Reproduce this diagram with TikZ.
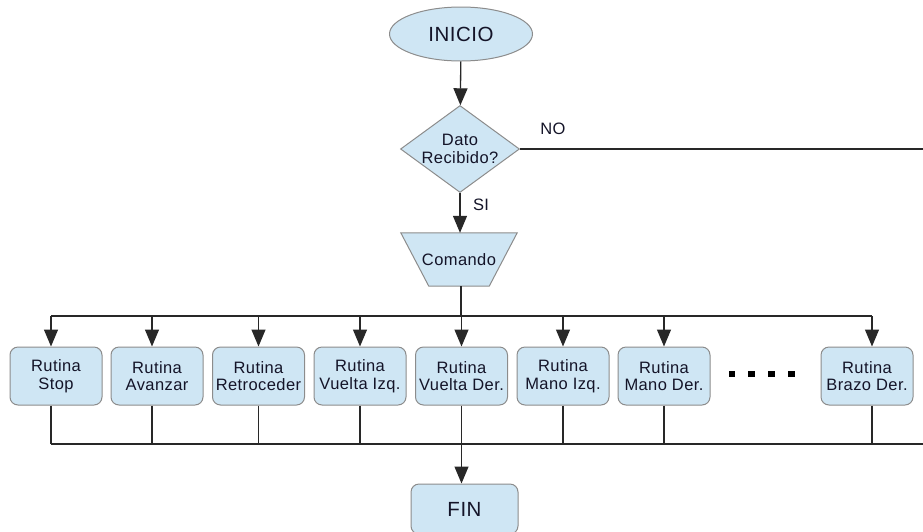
\documentclass[tikz,border=0pt]{standalone}
\usepackage{fontspec}
\setmainfont{Liberation Sans}
\newfontfamily\spacedfont[LetterSpace=2.5]{Liberation Sans}
\usetikzlibrary{shapes.geometric,arrows.meta}
\definecolor{boxfill}{RGB}{207,230,244}
\definecolor{boxdraw}{RGB}{140,140,140}
\definecolor{linecol}{RGB}{40,40,40}
\definecolor{txtcol}{RGB}{20,20,40}
\tikzset{
  shapebase/.style={draw=boxdraw, fill=boxfill, line width=1pt, inner sep=0pt, text=txtcol},
  smalltxt/.style={font=\spacedfont\fontsize{16.5}{17.8}\selectfont, align=center, text=txtcol},
  bigtxt/.style={font=\spacedfont\fontsize{20.5}{22}\selectfont},
  rutina/.style={shapebase, smalltxt, rectangle, rounded corners=8pt, minimum width=92pt, minimum height=58pt},
  conn/.style={draw=linecol, line width=1.3pt},
  arr/.style={conn, -{Triangle[width=14pt,length=17pt]}},
  dotsq/.style={fill=black, minimum size=6.5pt, inner sep=0pt, rectangle}
}
\begin{document}
\begin{tikzpicture}[x=1pt,y=-1pt]
\useasboundingbox (0,0) rectangle (923,531);
\clip (0,0) rectangle (923,531);
% nodes
\node[shapebase, bigtxt, ellipse, minimum width=143pt, minimum height=54pt] (inicio) at (461,34) {INICIO};
\node[shapebase, diamond, minimum width=119pt, minimum height=87pt] (dec) at (460,149) {};
\node[smalltxt] (dectxt) at (dec) {Dato\\Recibido?};
\node[smalltxt, inner sep=0pt, minimum width=116pt, minimum height=53pt] (cmd) at (459,259.5) {};
\fill[boxfill, draw=boxdraw, line width=1pt] (cmd.north west) -- (cmd.north east) -- ([xshift=-28pt]cmd.south east) -- ([xshift=28pt]cmd.south west) -- cycle;
\node[smalltxt] (cmdtxt) at (cmd) {Comando};
\node[smalltxt] (nolbl) at (553,129) {NO};
\node[smalltxt] (silbl) at (481,205) {SI};

\node[rutina] (r1) at (56,376) {Rutina\\Stop};
\node[rutina] (r2) at (157,376) {Rutina\\Avanzar};
\node[rutina] (r3) at (258.5,376) {Rutina\\Retroceder};
\node[rutina] (r4) at (360,376) {Rutina\\Vuelta Izq.};
\node[rutina] (r5) at (461.5,376) {Rutina\\Vuelta Der.};
\node[rutina] (r6) at (563,376) {Rutina\\Mano Izq.};
\node[rutina] (r7) at (664,376) {Rutina\\Mano Der.};
\node[rutina] (r8) at (867,376) {Rutina\\Brazo Der.};

\node[dotsq] (d1) at (732,374) {};
\node[dotsq] (d2) at (751.5,374) {};
\node[dotsq] (d3) at (771.5,374) {};
\node[dotsq] (d4) at (791.5,374) {};

\node[rutina, bigtxt, minimum width=107pt, minimum height=50pt] (fin) at (464.5,509) {FIN};

% helper coordinates
\coordinate (topbus) at (0,316);
\coordinate (botbus) at (0,444);
\coordinate (noend) at (923,149);
\coordinate (botend) at (923,444);
\coordinate (a1) at ([xshift=-5pt]r1.north);
\coordinate (a2) at ([xshift=-5pt]r2.north);
\coordinate (a8) at ([xshift=5pt]r8.north);
\coordinate (b1) at ([xshift=-5pt]r1.south);
\coordinate (b2) at ([xshift=-5pt]r2.south);
\coordinate (b8) at ([xshift=5pt]r8.south);
\coordinate (cmdbot) at ([xshift=2pt]cmd.south);

% connectors
\draw[arr] (inicio) -- (dec);
\draw[conn] (dec.east) -- (noend);
\draw[arr] (dec) -- (dec |- cmd.north);
\draw[conn] (cmdbot) -- (cmdbot |- topbus);
\draw[conn] (a1 |- topbus) -- (a8 |- topbus);
\draw[arr] (a1 |- topbus) -- (a1);
\draw[arr] (a2 |- topbus) -- (a2);
\draw[arr] (r3.north |- topbus) -- (r3.north);
\draw[arr] (r4.north |- topbus) -- (r4.north);
\draw[arr] (r5.north |- topbus) -- (r5.north);
\draw[arr] (r6.north |- topbus) -- (r6.north);
\draw[arr] (r7.north |- topbus) -- (r7.north);
\draw[arr] (a8 |- topbus) -- (a8);

\draw[conn] (b1) -- (b1 |- botbus);
\draw[conn] (b2) -- (b2 |- botbus);
\draw[conn] (r3.south) -- (r3.south |- botbus);
\draw[conn] (r4.south) -- (r4.south |- botbus);
\draw[conn] (r6.south) -- (r6.south |- botbus);
\draw[conn] (r7.south) -- (r7.south |- botbus);
\draw[conn] (b8) -- (b8 |- botbus);
\draw[conn] (b1 |- botbus) -- (botend);
\draw[arr] (r5.south) -- (r5.south |- fin.north);
\end{tikzpicture}
\end{document}
